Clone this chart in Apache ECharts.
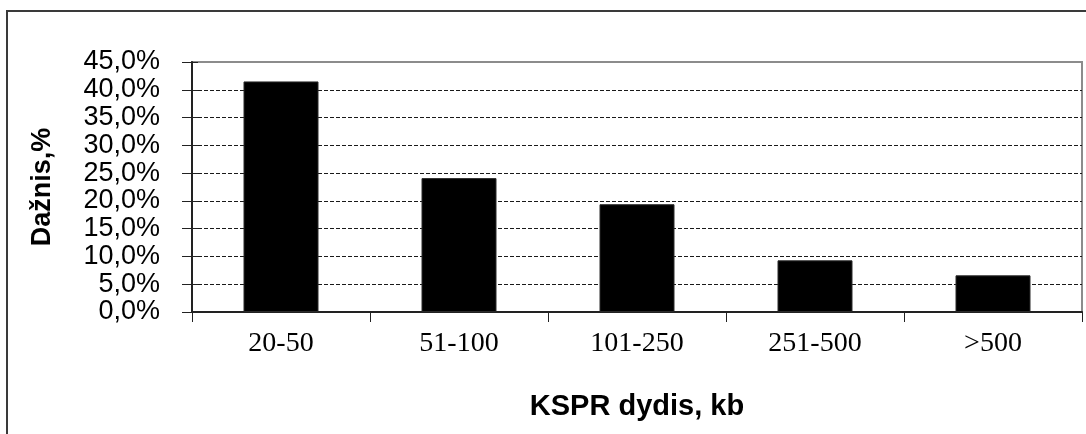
<!DOCTYPE html>
<html>
<head>
<meta charset="utf-8">
<script src="https://cdn.jsdelivr.net/npm/echarts@6/dist/echarts.min.js"></script>
<style>
  html, body { margin: 0; padding: 0; background: #fff; }
  #chart { width: 1086px; height: 434px; }
</style>
</head>
<body>
<div id="chart"></div>
<script>
// Size classes of the regions (kb) and their share, %
const categories = ['20-50', '51-100', '101-250', '251-500', '>500'];
const frequency = [41.5, 24.1, 19.4, 9.3, 6.6];
// Value axis range and step, %
const yMin = 0;
const yMax = 45;
const yStep = 5;

const xTitle = 'KSPR dydis, kb';
const yTitle = 'Dažnis,%';

const fmtPct = v => v.toFixed(1).replace('.', ',') + '%';

const chart = echarts.init(document.getElementById('chart'), null, { renderer: 'canvas' });

chart.setOption({
  animation: false,
  backgroundColor: '#ffffff',
  graphic: [
    {
      type: 'rect',
      shape: { x: 7, y: 11, width: 1100, height: 460 },
      style: { fill: 'none', stroke: '#3a3a3a', lineWidth: 2 },
      silent: true,
      z: -10
    }
  ],
  grid: {
    left: 192,
    right: 4,
    top: 62,
    bottom: 122,
    show: true,
    borderColor: '#8c8c8c',
    borderWidth: 2,
    backgroundColor: 'transparent'
  },
  xAxis: {
    type: 'category',
    data: categories,
    boundaryGap: true,
    axisLine: { show: true, lineStyle: { color: '#222', width: 2 } },
    axisTick: { show: true, length: 10, inside: false, lineStyle: { color: '#222', width: 1 } },
    axisLabel: {
      margin: 18,
      color: '#000',
      fontFamily: '"Liberation Serif", "Times New Roman", serif',
      fontSize: 28
    },
    name: xTitle,
    nameLocation: 'middle',
    nameGap: 80,
    nameTextStyle: {
      color: '#000',
      fontFamily: '"Liberation Sans", Arial, sans-serif',
      fontWeight: 'bold',
      fontSize: 29
    }
  },
  yAxis: [
    {
      type: 'value',
      min: yMin,
      max: yMax,
      interval: yStep,
      axisLine: { show: true, lineStyle: { color: '#222', width: 2 } },
      axisTick: { show: true, length: 10, inside: false, lineStyle: { color: '#222', width: 1 } },
      axisLabel: {
        margin: 32,
        color: '#000',
        fontFamily: '"Liberation Sans", Arial, sans-serif',
        fontSize: 27,
        lineHeight: 27,
        formatter: fmtPct
      },
      splitLine: {
        show: true,
        showMinLine: false,
        showMaxLine: false,
        lineStyle: { color: '#1a1a1a', width: 1, type: [4, 2] }
      },
      name: yTitle,
      nameLocation: 'middle',
      nameRotate: 90,
      nameGap: 136,
      nameTextStyle: {
        color: '#000',
        fontFamily: '"Liberation Sans", Arial, sans-serif',
        fontWeight: 'bold',
        fontSize: 27
      }
    },
    {
      // inner half of the crossing ticks on the value axis
      type: 'value',
      position: 'left',
      min: yMin,
      max: yMax,
      interval: yStep,
      axisLine: { show: false },
      axisTick: { show: true, length: 6, inside: true, lineStyle: { color: '#222', width: 1 } },
      axisLabel: { show: false },
      splitLine: { show: false }
    }
  ],
  series: [
    {
      type: 'bar',
      data: frequency,
      yAxisIndex: 0,
      barWidth: 75,
      itemStyle: { color: '#000000', borderColor: '#2a2a2a', borderWidth: 1 },
      z: 3
    }
  ]
});
</script>
</body>
</html>
